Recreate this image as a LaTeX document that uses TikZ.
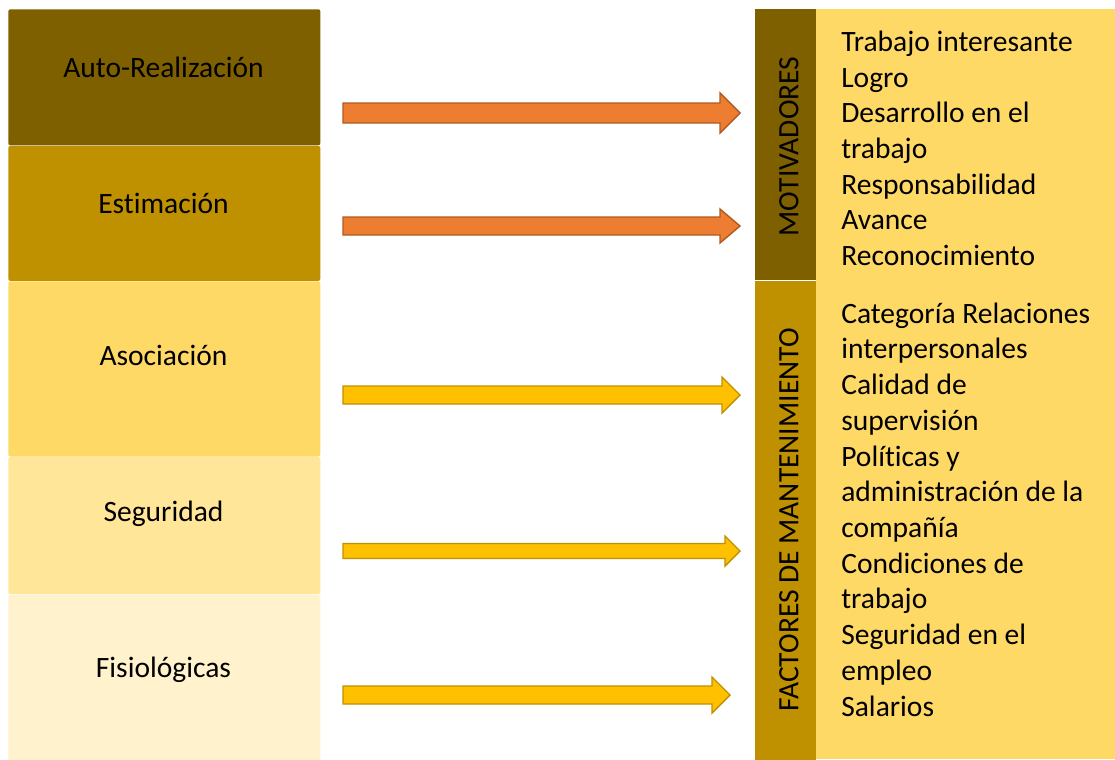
\documentclass[tikz,border=0pt]{standalone}
\usepackage{fontspec}
\setmainfont[Ligatures=NoCommon]{Carlito}
\usetikzlibrary{positioning,calc}

\definecolor{darkbrown}{HTML}{7F6000}
\definecolor{goldbrown}{HTML}{BF9000}
\definecolor{lightgold}{HTML}{FFD966}
\definecolor{palegold}{HTML}{FFE699}
\definecolor{creamgold}{HTML}{FFF2CC}
\definecolor{orangefill}{HTML}{ED7D31}
\definecolor{orangeedge}{HTML}{AE5A21}
\definecolor{amberfill}{HTML}{FFC000}

% block arrow: style, tail, tip, half shaft, half head, head length
\newcommand{\blockarrow}[6]{%
\draw [#1] ($(#2)+(0,-#4)$) -- ($(#3)+(-#6,-#4)$) -- ($(#3)+(-#6,-#5)$) -- (#3)
  -- ($(#3)+(-#6,#5)$) -- ($(#3)+(-#6,#4)$) -- ($(#2)+(0,#4)$) -- cycle;}

\begin{document}
\begin{tikzpicture}[x=0.025cm,y=-0.025cm]
\tikzstyle{level} = [rectangle, rounded corners=1.5pt, minimum width=7.8cm, inner sep=0pt, anchor=north west]
\tikzstyle{side} = [rectangle, minimum width=1.525cm, inner sep=0pt, anchor=north west]
\tikzstyle{word} = [font=\fontsize{21}{25.3}\selectfont]
\tikzstyle{listword} = [font=\fontsize{21}{25.4}\selectfont, align=left, anchor=north west, inner sep=0pt]
\tikzstyle{orangearrow} = [fill=orangefill, draw=orangeedge, line width=1pt]
\tikzstyle{amberarrow} = [fill=amberfill, draw=goldbrown, line width=1pt]

\useasboundingbox (0,0) rectangle (1115,759);

%levels
\node (AR) [level, fill=darkbrown, minimum height=3.4cm] at (8,9) {};
\node (ES) [level, fill=goldbrown, minimum height=3.375cm, below=0pt of AR.south west, anchor=north west] {};
\node (AS) [level, fill=lightgold, minimum height=4.375cm, below=0pt of ES.south west, anchor=north west] {};
\node (SE) [level, fill=palegold, minimum height=3.425cm, below=0pt of AS.south west, anchor=north west] {};
\node (FI) [level, fill=creamgold, minimum height=4.175cm, below=0pt of SE.south west, anchor=north west] {};

\node (ARt) [word, anchor=base] at (163.5,77) {Auto-Realización};
\node (ESt) [word, anchor=base] at (163.5,213) {Estimación};
\node (ASt) [word, anchor=base] at (163.5,365) {Asociación};
\node (SEt) [word, anchor=base] at (163.5,521) {Seguridad};
\node (FIt) [word, anchor=base] at (163.5,677) {Fisiológicas};

%right side
\node (PN) [rectangle, fill=lightgold, anchor=north west, minimum width=7.475cm, minimum height=18.75cm, inner sep=0pt] at (816,9) {};
\node (MO) [side, fill=darkbrown, minimum height=6.775cm] at (755,9) {};
\node (FA) [side, fill=goldbrown, minimum height=11.975cm, below=0pt of MO.south west, anchor=north west] {};

\node (MOt) [word, rotate=90] at (789,146.5) {MOTIVADORES};
\node (FAt) [word, rotate=90] at (789,520) {FACTORES DE MANTENIMIENTO};

\node (MOl) [listword] at (841,26) {\strut Trabajo interesante\\Logro\\Desarrollo en el\\trabajo\\Responsabilidad\\Avance\\Reconocimiento};
\node (FAl) [listword] at (841,297.9) {\strut Categoría Relaciones\\interpersonales\\Calidad de\\supervisión\\Políticas y\\administración de la\\compañía\\Condiciones de\\trabajo\\Seguridad en el\\empleo\\Salarios};

%arrow ends
\coordinate (A1) at (343,113);
\coordinate (A1T) at (740,113);
\coordinate (A2) at (343,226);
\coordinate (A2T) at (740,226);
\coordinate (A3) at (343,395);
\coordinate (A3T) at (740,395);
\coordinate (A4) at (343,551);
\coordinate (A4T) at (740,551);
\coordinate (A5) at (343,695);
\coordinate (A5T) at (730,695);

%arrows
\blockarrow{orangearrow}{A1}{A1T}{10}{20}{20}
\blockarrow{orangearrow}{A2}{A2T}{9}{17}{20}
\blockarrow{amberarrow}{A3}{A3T}{9}{18}{18}
\blockarrow{amberarrow}{A4}{A4T}{7.5}{15}{15}
\blockarrow{amberarrow}{A5}{A5T}{9}{18}{18}
\end{tikzpicture}
\end{document}
